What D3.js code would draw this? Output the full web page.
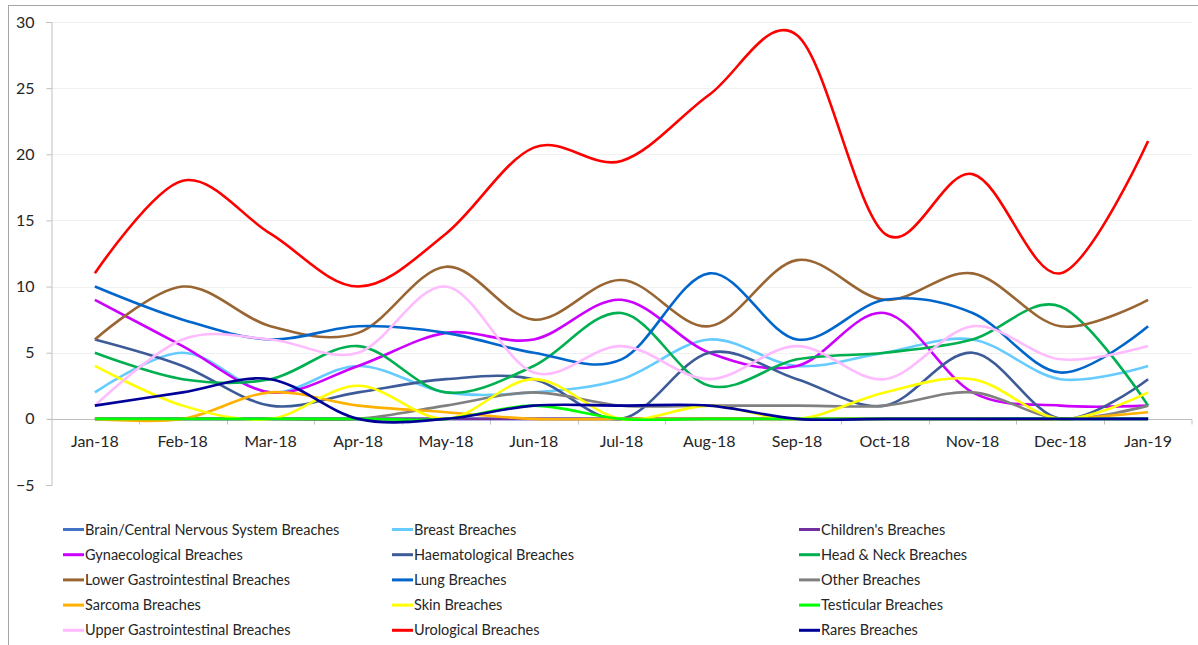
<!DOCTYPE html>
<html>
<head>
<meta charset="utf-8">
<script src="https://cdn.jsdelivr.net/npm/d3@7"></script>
<style>
  body { margin: 0; background: #fff; }
  text { font-family: Lato, "Open Sans", sans-serif; fill: #262626; }
</style>
</head>
<body>
<div id="chart"></div>
<script>
// months on the x axis
var months = ['Jan-18', 'Feb-18', 'Mar-18', 'Apr-18', 'May-18', 'Jun-18', 'Jul-18',
    'Aug-18', 'Sep-18', 'Oct-18', 'Nov-18', 'Dec-18', 'Jan-19'];
var y_ticks = [-5, 0, 5, 10, 15, 20, 25, 30];

// series values
var brain = [0, 0, 0, 0, 0, 0, 0, 0, 0, 0, 0, 0, 0];
var breast = [2, 5, 2, 4, 2, 2, 3, 6, 4, 5, 6, 3, 4];
var children = [0, 0, 0, 0, 0, 0, 0, 0, 0, 0, 0, 0, 0];
var gynae = [9, 5.5, 2, 4, 6.5, 6, 9, 5, 4, 8, 2, 1, 1];
var haemat = [6, 4, 1, 2, 3, 3, 0, 5, 3, 1, 5, 0, 3];
var head_neck = [5, 3, 3, 5.5, 2, 4, 8, 2.5, 4.5, 5, 6, 8.5, 1];
var lower_gi = [6, 10, 7, 6.5, 11.5, 7.5, 10.5, 7, 12, 9, 11, 7, 9];
var lung = [10, 7.5, 6, 7, 6.5, 5, 4.5, 11, 6, 9, 8, 3.5, 7];
var other = [0, 0, 0, 0, 1, 2, 1, 1, 1, 1, 2, 0, 1];
var sarcoma = [0, 0, 2, 1, 0.5, 0, 0, 0, 0, 0, 0, 0, 0.5];
var skin = [4, 1, 0, 2.5, 0, 3, 0, 1, 0, 2, 3, 0, 2];
var testicular = [0, 0, 0, 0, 0, 1, 0, 0, 0, 0, 0, 0, 0];
var upper_gi = [1, 6, 6, 5, 10, 3.5, 5.5, 3, 5.5, 3, 7, 4.5, 5.5];
var urological = [11, 18, 14, 10, 14, 20.5, 19.5, 24.5, 29, 14, 18.5, 11, 21];
var rares = [1, 2, 3, 0, 0, 1, 1, 1, 0, 0, 0, 0, 0];

var series = [
    { name: 'Brain/Central Nervous System Breaches', values: brain, color: '#4472C4' },
    { name: 'Breast Breaches', values: breast, color: '#66CCFF' },
    { name: "Children's Breaches", values: children, color: '#7030A0' },
    { name: 'Gynaecological Breaches', values: gynae, color: '#CC00FF' },
    { name: 'Haematological Breaches', values: haemat, color: '#3D5B99' },
    { name: 'Head & Neck Breaches', values: head_neck, color: '#00B050' },
    { name: 'Lower Gastrointestinal Breaches', values: lower_gi, color: '#996633' },
    { name: 'Lung Breaches', values: lung, color: '#0066CC' },
    { name: 'Other Breaches', values: other, color: '#808080' },
    { name: 'Sarcoma Breaches', values: sarcoma, color: '#FFB000' },
    { name: 'Skin Breaches', values: skin, color: '#FFFF00' },
    { name: 'Testicular Breaches', values: testicular, color: '#00FF00' },
    { name: 'Upper Gastrointestinal Breaches', values: upper_gi, color: '#FFBBFF' },
    { name: 'Urological Breaches', values: urological, color: '#FF0000' },
    { name: 'Rares Breaches', values: rares, color: '#000099' }
];

var chart_width = 1198;
var chart_height = 645;
var plot_left = 51, plot_right = 1192, plot_top = 22, plot_bottom = 485;

var svg = d3.select('#chart')
    .append('svg')
    .attr('width', chart_width)
    .attr('height', chart_height);

// chart border
svg.append('rect')
    .attr('x', 8.5).attr('y', 5.5)
    .attr('width', 1300).attr('height', 700)
    .attr('fill', 'none')
    .attr('stroke', '#a6a6a6');

var x_scale = d3.scaleBand()
    .domain(months)
    .range([plot_left, plot_right]);

var y_scale = d3.scaleLinear()
    .domain([-5, 30])
    .range([plot_bottom, plot_top]);

function cx(i) {
    return x_scale(months[i]) + x_scale.bandwidth() / 2;
}

// gridlines
svg.selectAll('.grid')
    .data(y_ticks.filter(function (d) { return d !== 0 && d !== -5; }))
    .enter()
    .append('line')
    .attr('x1', plot_left).attr('x2', plot_right)
    .attr('y1', function (d) { return Math.round(y_scale(d)) + 0.5; })
    .attr('y2', function (d) { return Math.round(y_scale(d)) + 0.5; })
    .attr('stroke', '#f0f0f0');

// y axis
var y_axis = d3.axisLeft(y_scale)
    .tickValues(y_ticks)
    .tickSize(5)
    .tickPadding(12);
svg.append('g')
    .attr('transform', 'translate(' + (plot_left + 0.5) + ',0)')
    .call(y_axis)
    .call(function (g) {
        g.select('.domain').attr('stroke', '#bfbfbf');
        g.selectAll('line').attr('stroke', '#bfbfbf');
        g.selectAll('text').attr('font-size', 16).attr('fill', '#262626')
            .attr('font-family', 'Lato, sans-serif');
    });

// x axis line at zero, with ticks between categories
var y0 = Math.round(y_scale(0)) + 0.5;
svg.append('line')
    .attr('x1', plot_left - 3).attr('x2', plot_right)
    .attr('y1', y0).attr('y2', y0)
    .attr('stroke', '#bfbfbf');

svg.selectAll('.xtick')
    .data(months.slice(1).concat(['end']))
    .enter()
    .append('line')
    .attr('x1', function (d) { return d === 'end' ? plot_right : Math.round(x_scale(d)) + 0.5; })
    .attr('x2', function (d) { return d === 'end' ? plot_right : Math.round(x_scale(d)) + 0.5; })
    .attr('y1', y0).attr('y2', y0 + 5)
    .attr('stroke', '#bfbfbf');

svg.selectAll('.xlabel')
    .data(months)
    .enter()
    .append('text')
    .attr('x', function (d, i) { return cx(i); })
    .attr('y', 447)
    .attr('text-anchor', 'middle')
    .attr('font-size', 16)
    .text(function (d) { return d; });

// smoothed lines, like Excel's
var line = d3.line()
    .x(function (d, i) { return cx(i); })
    .y(function (d) { return y_scale(d); })
    .curve(d3.curveCardinal.tension(0));

svg.selectAll('.series')
    .data(series)
    .enter()
    .append('path')
    .attr('d', function (d) { return line(d.values); })
    .attr('fill', 'none')
    .attr('stroke', function (d) { return d.color; })
    .attr('stroke-width', 2.6)
    .attr('stroke-linejoin', 'round');

// legend: 3 columns
var col_x = [63, 392, 799];
var legend = svg.selectAll('.legend')
    .data(series)
    .enter()
    .append('g')
    .attr('transform', function (d, i) {
        return 'translate(' + col_x[i % 3] + ',' + (529.5 + Math.floor(i / 3) * 25.2) + ')';
    });

legend.append('line')
    .attr('x1', 0).attr('x2', 21)
    .attr('stroke', function (d) { return d.color; })
    .attr('stroke-width', 3);

legend.append('text')
    .attr('x', 22)
    .attr('dy', '0.35em')
    .attr('font-size', 14.5)
    .text(function (d) { return d.name; });
</script>
</body>
</html>
